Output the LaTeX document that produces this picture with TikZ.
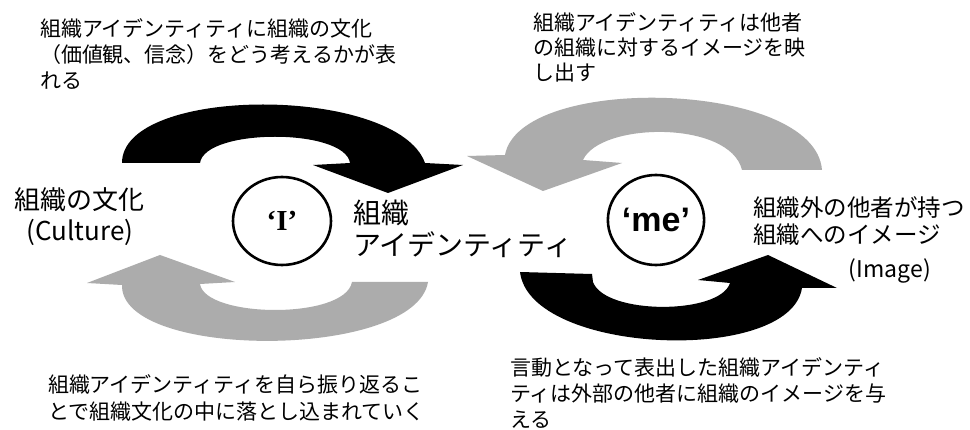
\documentclass[tikz,border=0pt]{standalone}
\usepackage{fontspec}
\usetikzlibrary{shapes.geometric}
\newfontfamily\jp{Noto Sans CJK JP}
\newfontfamily\serifb{Liberation Serif}
\newfontfamily\sansb{Liberation Sans}
\definecolor{arrowgray}{RGB}{172,172,172}
\begin{document}
\begin{tikzpicture}[x=1pt,y=-1pt,
  blackarrow/.style={fill=black,draw=none},
  grayarrow/.style={fill=arrowgray,draw=none},
  selfcircle/.style={draw=black,line width=2.6pt,ellipse,inner sep=0pt},
  jptext/.style={inner sep=0pt,outer sep=0pt,align=left,anchor=north west},
]
\useasboundingbox[fill=white] (0,0) rectangle (970,430);

% top-left black arrow
\path[blackarrow] (122,163) .. controls (122,85) and (397,85) .. (425,163)
  -- (463,165) -- (388,193) -- (313,165) -- (350,163)
  .. controls (345,128) and (205,128) .. (200,163) -- cycle;
% top-right gray arrow
\path[grayarrow] (822,170) .. controls (815,80) and (520,73) .. (505,155)
  -- (467,156) -- (543,191) -- (622,163) -- (583,160)
  .. controls (600,122) and (730,120) .. (742,170) -- cycle;
% bottom-left gray arrow
\path[grayarrow] (87,283) -- (160,255) -- (235,282) -- (200,284)
  .. controls (205,318) and (345,320) .. (352,282) -- (428,282)
  .. controls (415,360) and (120,360) .. (122,285) -- cycle;
% bottom-right black arrow
\path[blackarrow] (520,272) -- (592,274) -- (593,282)
  .. controls (605,315) and (720,315) .. (730,283) -- (698,280)
  -- (768,255) -- (837,288) -- (802,288)
  .. controls (790,365) and (530,355) .. (520,272) -- cycle;

% circles
\node[selfcircle,minimum width=98pt,minimum height=88pt] (i) at (282,221)
  {\serifb\bfseries\fontsize{29}{29}\selectfont ‘I’};
\node[selfcircle,minimum width=96pt,minimum height=90pt] (me) at (656,220)
  {\sansb\bfseries\fontsize{34}{34}\selectfont ‘me’};

% texts
\node[jptext,font=\jp\fontsize{21}{26}\selectfont] (tl) at (40,19)
  {組織アイデンティティに組織の文化\\（価値観、信念）をどう考えるかが表\\れる};
\node[jptext,font=\jp\fontsize{21}{25}\selectfont] (tr) at (533,13)
  {組織アイデンティティは他者\\の組織に対するイメージを映\\し出す};
\node[inner sep=0pt,align=center,anchor=north,font=\jp\fontsize{26}{31}\selectfont] (culture) at (80,187)
  {組織の文化\\(Culture)};
\node[jptext,font=\jp\fontsize{28}{32}\selectfont] (oid) at (353,200)
  {組織\\アイデンティティ};
\node[jptext,font=\jp\fontsize{23.5}{27}\selectfont] (image) at (753,197)
  {組織外の他者が持つ\\組織へのイメージ};
\node[inner sep=0pt,anchor=east,font=\jp\fontsize{23}{23}\selectfont] (imagelat) at (931,271) {(Image)};
\node[jptext,font=\jp\fontsize{21}{27}\selectfont] (bl) at (48,375)
  {組織アイデンティティを自ら振り返るこ\\とで組織文化の中に落とし込まれていく};
\node[jptext,font=\jp\fontsize{21}{26}\selectfont] (br) at (510,358)
  {言動となって表出した組織アイデンティ\\ティは外部の他者に組織のイメージを与\\える};
\end{tikzpicture}
\end{document}
